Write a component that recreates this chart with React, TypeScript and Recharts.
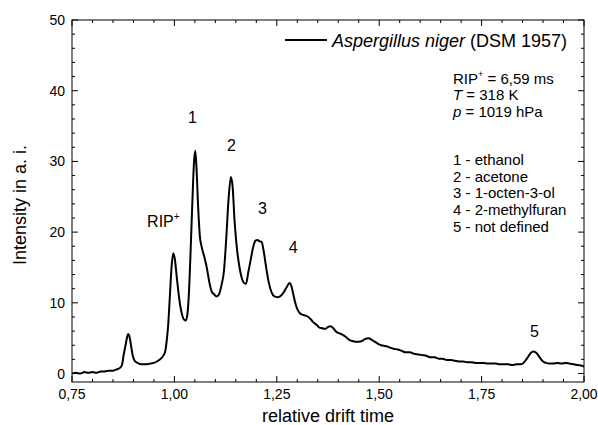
import React from "react";
import { LineChart, Line, XAxis, YAxis, ReferenceDot } from "recharts";

// relative drift time (x) and intensity in a.i. (y)
const driftTime = [
  0.75, 0.76, 0.77, 0.78, 0.79, 0.8, 0.81, 0.82, 0.83, 0.84, 0.85, 0.86, 0.867, 0.872, 0.876, 0.88, 0.884, 0.887,
  0.89, 0.894, 0.898, 0.903, 0.91, 0.92, 0.93, 0.94, 0.95, 0.96, 0.97, 0.977, 0.981, 0.985, 0.989, 0.993, 0.997,
  1.001, 1.006, 1.012, 1.018, 1.024, 1.028, 1.032, 1.036, 1.04, 1.044, 1.048, 1.051, 1.054, 1.058, 1.062, 1.067,
  1.073, 1.079, 1.085, 1.091, 1.097, 1.103, 1.109, 1.115, 1.121, 1.127, 1.132, 1.138, 1.142, 1.147, 1.153, 1.159,
  1.165, 1.17, 1.175, 1.18, 1.186, 1.192, 1.198, 1.203, 1.208, 1.213, 1.218, 1.224, 1.23, 1.237, 1.244, 1.252,
  1.26, 1.267, 1.274, 1.281, 1.286, 1.291, 1.296, 1.301, 1.307, 1.314, 1.32, 1.327, 1.334, 1.34, 1.347, 1.354,
  1.361, 1.368, 1.375, 1.381, 1.388, 1.395, 1.402, 1.41, 1.418, 1.426, 1.434, 1.442, 1.45, 1.458, 1.466, 1.474,
  1.481, 1.489, 1.497, 1.505, 1.515, 1.525, 1.535, 1.545, 1.555, 1.565, 1.575, 1.585, 1.595, 1.605, 1.615, 1.625,
  1.635, 1.645, 1.655, 1.665, 1.675, 1.685, 1.695, 1.705, 1.715, 1.725, 1.735, 1.745, 1.755, 1.765, 1.775, 1.785,
  1.795, 1.805, 1.815, 1.825, 1.835, 1.845, 1.852, 1.858, 1.864, 1.87, 1.876, 1.882, 1.888, 1.894, 1.9, 1.907,
  1.915, 1.925, 1.935, 1.945, 1.955, 1.965, 1.975, 1.985, 1.995, 2.0,
];
const intensity = [
  0.0, 0.1, 0.0, 0.2, 0.1, 0.2, 0.1, 0.3, 0.3, 0.4, 0.4, 0.6, 0.8, 1.2, 2.6, 3.8, 5.0, 5.6,
  5.3, 4.0, 2.6, 1.8, 1.5, 1.3, 1.3, 1.4, 1.5, 1.8, 2.3, 3.0, 4.5, 7.0, 11.0, 15.0, 17.0,
  16.2, 13.5, 10.5, 8.5, 7.6, 7.5, 8.5, 12.0, 18.0, 24.5, 30.0, 31.5, 29.0, 23.5, 19.5, 17.8,
  16.5, 15.0, 13.0, 11.6, 11.2, 10.9, 11.2, 12.5, 14.5, 19.5, 24.5, 27.8, 26.5, 21.5, 17.5, 15.0,
  13.4, 12.8, 12.7, 14.2, 16.0, 17.8, 18.8, 18.9, 18.7, 18.6, 17.3, 15.0, 13.0, 11.5, 10.9, 10.8,
  11.0, 11.5, 12.2, 12.8, 12.3, 11.0, 9.8, 9.0, 8.5, 8.3, 8.2, 8.0, 7.6, 7.2, 6.9, 6.5,
  6.4, 6.3, 6.6, 6.7, 6.4, 5.9, 5.7, 5.5, 5.2, 4.8, 4.6, 4.5, 4.5, 4.6, 4.9, 5.0,
  4.8, 4.5, 4.2, 4.0, 3.9, 3.7, 3.5, 3.4, 3.2, 3.0, 3.0, 2.8, 2.7, 2.6, 2.5, 2.3,
  2.3, 2.1, 2.1, 1.9, 1.9, 1.8, 1.7, 1.7, 1.6, 1.6, 1.5, 1.5, 1.5, 1.4, 1.4, 1.4,
  1.3, 1.3, 1.3, 1.2, 1.3, 1.3, 1.5, 1.9, 2.4, 2.9, 3.1, 3.0, 2.6, 2.1, 1.7, 1.5,
  1.4, 1.4, 1.5, 1.4, 1.5, 1.4, 1.3, 1.2, 1.1, 1.0,
];

const xTicks = [
  0.75, 0.8, 0.85, 0.9, 0.95, 1.0, 1.05, 1.1, 1.15, 1.2, 1.25, 1.3, 1.35, 1.4, 1.45, 1.5, 1.55, 1.6, 1.65,
  1.7, 1.75, 1.8, 1.85, 1.9, 1.95, 2.0,
];
const xMajorTicks = [0.75, 1.0, 1.25, 1.5, 1.75, 2.0];
const yTicks = [0, 2, 4, 6, 8, 10, 12, 14, 16, 18, 20, 22, 24, 26, 28, 30, 32, 34, 36, 38, 40, 42, 44, 46, 48, 50];
const yMajorTicks = [0, 10, 20, 30, 40, 50];

// peak annotations: label, drift time, intensity of text baseline
const peakNames = ["RIP", "1", "2", "3", "4", "5"];
const peakTimes = [0.973, 1.044, 1.139, 1.215, 1.29, 1.879];
const peakLabelY = [20.7, 35.5, 31.5, 22.6, 17.0, 5.1];

const compounds = ["1 - ethanol", "2 - acetone", "3 - 1-octen-3-ol", "4 - 2-methylfuran", "5 - not defined"];

const data = driftTime.map((t, i) => ({ t, intensity: intensity[i] }));

const FONT = "'Liberation Sans', Arial, sans-serif";
const W = 598;
const H = 425;
const PLOT = { left: 72, right: 584, top: 20, bottom: 382 };

const fmt = (v: number) => v.toFixed(2).replace(".", ",");

function XTick(props: any) {
  const { x, payload } = props;
  const major = xMajorTicks.includes(payload.value);
  const len = major ? 6 : 3;
  return (
    <g>
      <line x1={x} x2={x} y1={PLOT.bottom} y2={PLOT.bottom - len} stroke="#000" />
      <line x1={x} x2={x} y1={PLOT.top} y2={PLOT.top + len} stroke="#000" />
      {major && (
        <text x={x} y={399} textAnchor="middle" fontSize={14} fontFamily={FONT} fill="#000">
          {fmt(payload.value)}
        </text>
      )}
    </g>
  );
}

function YTick(props: any) {
  const { y, payload } = props;
  const major = yMajorTicks.includes(payload.value);
  const len = major ? 6 : 3;
  return (
    <g>
      <line x1={PLOT.left} x2={PLOT.left + len} y1={y} y2={y} stroke="#000" />
      <line x1={PLOT.right} x2={PLOT.right - len} y1={y} y2={y} stroke="#000" />
      {major && (
        <text x={65} y={y + 5} textAnchor="end" fontSize={14} fontFamily={FONT} fill="#000">
          {payload.value}
        </text>
      )}
    </g>
  );
}

function PeakLabel(props: any) {
  const { cx, cy, name } = props;
  return (
    <text x={cx} y={cy} textAnchor="middle" fontSize={16} fontFamily={FONT} fill="#000">
      {name}
      {name === "RIP" && (
        <tspan fontSize={10} dy={-7}>
          +
        </tspan>
      )}
    </text>
  );
}

export default function App() {
  return (
    <div style={{ position: "relative", width: W, height: H, background: "#fff" }}>
      <style>{`body{margin:0}`}</style>
      <LineChart width={W} height={H} data={data} margin={{ top: 20, right: 14, bottom: 0, left: 0 }}>
        <XAxis
          dataKey="t"
          type="number"
          domain={[0.75, 2.0]}
          ticks={xTicks}
          interval={0}
          height={43}
          tickLine={false}
          axisLine={false}
          tick={<XTick />}
          allowDataOverflow
          label={{
            content: () => (
              <text x={(PLOT.left + PLOT.right) / 2} y={422} textAnchor="middle" fontSize={18} fontFamily={FONT} fill="#000">
                relative drift time
              </text>
            ),
          }}
        />
        <YAxis
          type="number"
          domain={[-1.2, 50]}
          ticks={yTicks}
          interval={0}
          width={72}
          tickLine={false}
          axisLine={false}
          tick={<YTick />}
          allowDataOverflow
          label={{
            content: () => (
              <text
                x={26}
                y={205}
                transform="rotate(-90 26 205)"
                textAnchor="middle"
                fontSize={18}
                fontFamily={FONT}
                fill="#000"
              >
                Intensity in a. i.
              </text>
            ),
          }}
        />
        <Line
          type="monotone"
          dataKey="intensity"
          stroke="#000"
          strokeWidth={2}
          dot={false}
          isAnimationActive={false}
        />
        {peakNames.map((name, i) => (
          <ReferenceDot
            key={name}
            x={peakTimes[i]}
            y={peakLabelY[i]}
            r={0}
            shape={(p: any) => <PeakLabel {...p} name={name} />}
          />
        ))}
      </LineChart>
      <svg
        width={W}
        height={H}
        style={{ position: "absolute", left: 0, top: 0, pointerEvents: "none" }}
        fontFamily={FONT}
      >
        <rect
          x={PLOT.left}
          y={PLOT.top}
          width={PLOT.right - PLOT.left}
          height={PLOT.bottom - PLOT.top}
          fill="none"
          stroke="#000"
        />
        <line x1={285} x2={327} y1={40} y2={40} stroke="#000" strokeWidth={2} />
        <text x={332} y={47} fontSize={18} fill="#000">
          <tspan fontStyle="italic">Aspergillus niger</tspan> (DSM 1957)
        </text>
        <g fontSize={15} fill="#000">
          <text x={453} y={83.5}>
            RIP
            <tspan fontSize={9} dy={-7}>
              +
            </tspan>
            <tspan dy={7}> = 6,59 ms</tspan>
          </text>
          <text x={453} y={100}>
            <tspan fontStyle="italic">T</tspan> = 318 K
          </text>
          <text x={453} y={116.7}>
            <tspan fontStyle="italic">p</tspan> = 1019 hPa
          </text>
          {compounds.map((c, i) => (
            <text key={c} x={453} y={165 + i * 16.7}>
              {c}
            </text>
          ))}
        </g>
      </svg>
    </div>
  );
}
